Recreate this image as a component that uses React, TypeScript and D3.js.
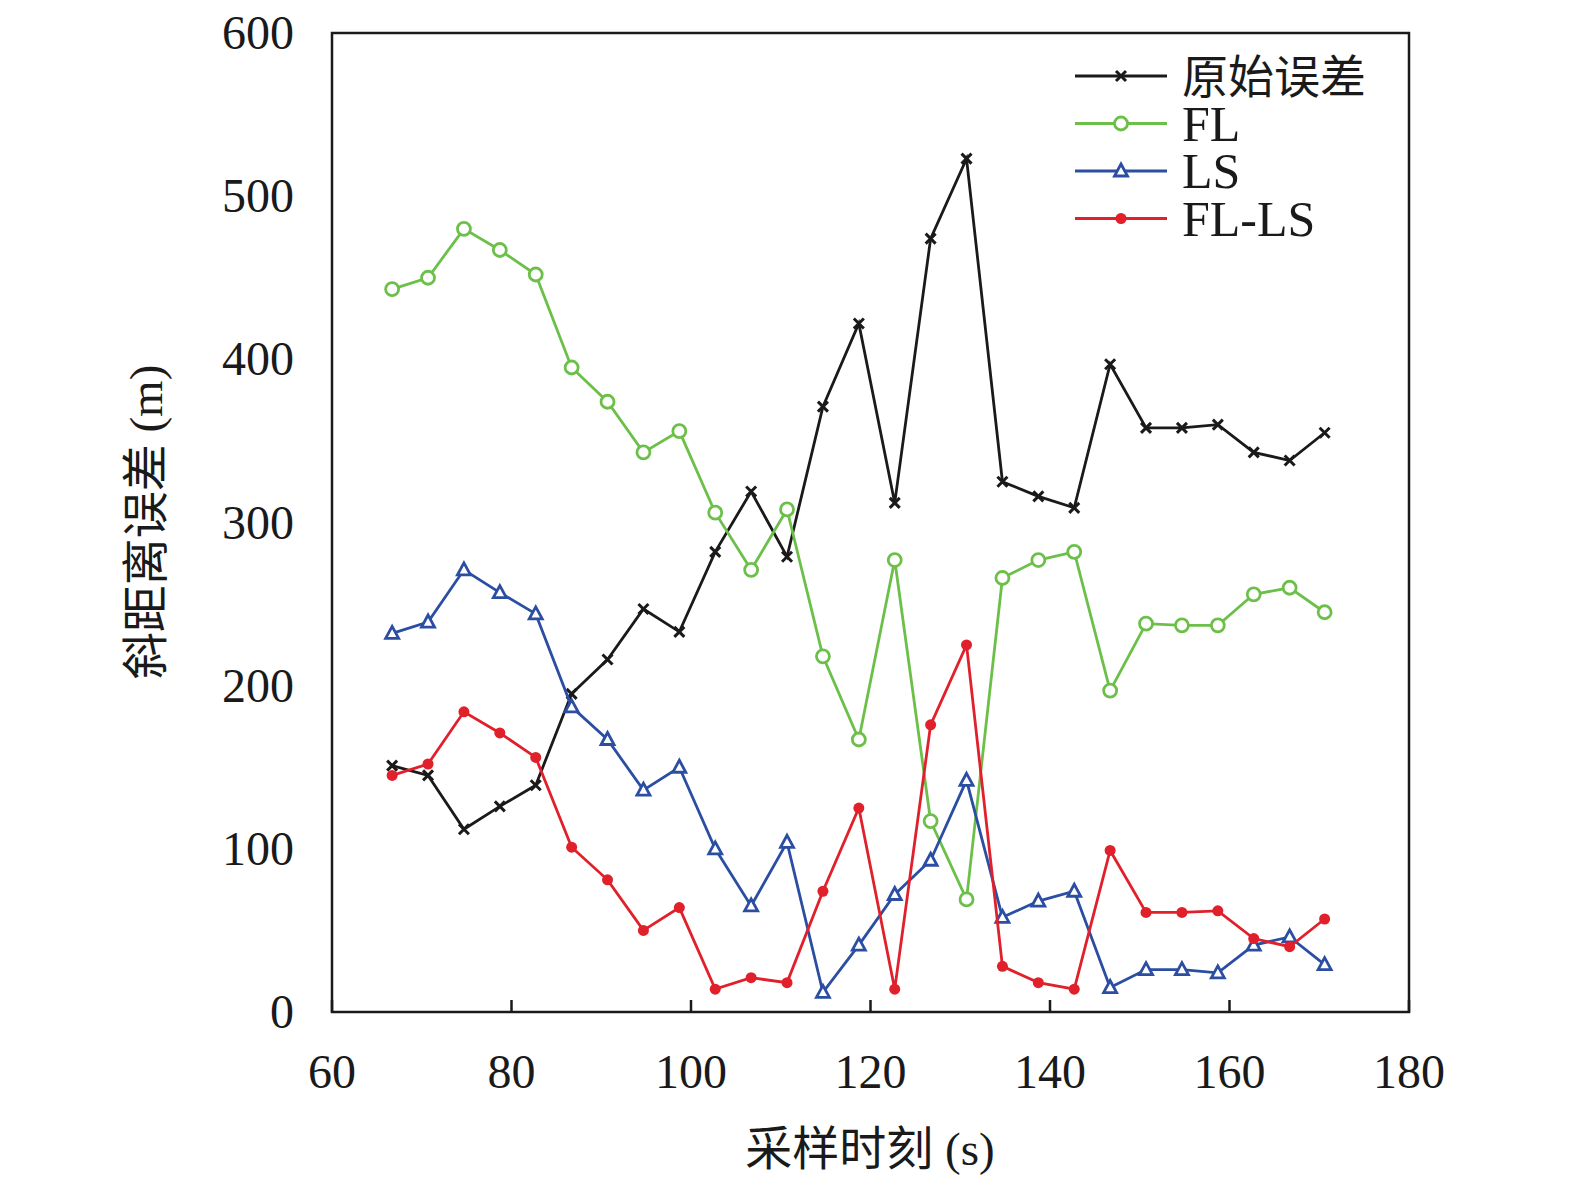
import React, { useEffect } from 'react'
import * as d3 from 'd3'

const times = [66.7, 70.7, 74.7, 78.7, 82.7, 86.7, 90.7, 94.7, 98.7, 102.7, 106.7, 110.7, 114.7, 118.7, 122.7, 126.7, 130.7, 134.7, 138.7, 142.7, 146.7, 150.7, 154.7, 158.7, 162.7, 166.7, 170.6]
const raw = [151, 145, 112, 126, 139, 195, 216, 247, 233, 282, 319, 279, 371, 422, 312, 474, 523, 325, 316, 309, 397, 358, 358, 360, 343, 338, 355]
const fl = [443, 450, 480, 467, 452, 395, 374, 343, 356, 306, 271, 308, 218, 167, 277, 117, 69, 266, 277, 282, 197, 238, 237, 237, 256, 260, 245]
const ls = [232, 239, 271, 257, 244, 187, 167, 136, 150, 100, 65, 104, 12, 41, 72, 93, 142, 58, 68, 74, 15, 26, 26, 24, 41, 46, 29]
const flls = [145, 152, 184, 171, 156, 101, 81, 50, 64, 14, 21, 18, 74, 125, 14, 176, 225, 28, 18, 14, 99, 61, 61, 62, 45, 40, 57]
const xTicks = [60, 80, 100, 120, 140, 160, 180]
const yTicks = [0, 100, 200, 300, 400, 500, 600]

const series = [
  { name: '原始误差', values: raw, color: '#1a1a1a', marker: 'x' },
  { name: 'FL', values: fl, color: '#6cc04a', marker: 'circle' },
  { name: 'LS', values: ls, color: '#2b4ea2', marker: 'tri' },
  { name: 'FL-LS', values: flls, color: '#e0202a', marker: 'dot' },
]

const serif = '"Liberation Serif", "Times New Roman", serif'
const cjk = '"Noto Sans CJK SC", sans-serif'

function Marker({ type, x, y, color }) {
  if (type === 'x')
    return <path d={`M${x - 5},${y - 5}L${x + 5},${y + 5}M${x - 5},${y + 5}L${x + 5},${y - 5}`} stroke={color} strokeWidth={3} />
  if (type === 'circle') return <circle cx={x} cy={y} r={6.5} fill="white" stroke={color} strokeWidth={2.8} />
  if (type === 'tri')
    return <path d={`M${x},${y - 7}L${x + 6.5},${y + 5}L${x - 6.5},${y + 5}Z`} fill="white" stroke={color} strokeWidth={2.8} />
  return <circle cx={x} cy={y} r={5.5} fill={color} />
}

export default function App() {
  useEffect(() => {
    document.body.style.margin = '0'
    document.body.style.overflow = 'hidden'
  }, [])
  const left = 332, right = 1409, top = 33, bottom = 1012
  const x = d3.scaleLinear().domain([60, 180]).range([left, right])
  const y = d3.scaleLinear().domain([0, 600]).range([bottom, top])
  const line = d3.line<number>().x((_, i) => x(times[i])).y(d => y(d))

  return (
    <svg width={1575} height={1191} style={{ position: 'fixed', left: 0, top: 0, background: 'white' }}>
      <rect x={left} y={top} width={right - left} height={bottom - top} fill="none" stroke="#1a1a1a" strokeWidth={2.5} />
      {xTicks.map(t => (
        <g key={t}>
          <line x1={x(t)} x2={x(t)} y1={bottom} y2={bottom - 12} stroke="#1a1a1a" strokeWidth={2.5} />
          <text x={x(t)} y={bottom + 76} textAnchor="middle" fontFamily={serif} fontSize={48} fill="#1a1a1a">{t}</text>
        </g>
      ))}
      {yTicks.map(t => (
        <text key={t} x={left - 38} y={y(t) + 16} textAnchor="end" fontFamily={serif} fontSize={48} fill="#1a1a1a">{t}</text>
      ))}
      <text x={870} y={1165} textAnchor="middle" fontSize={47} fill="#1a1a1a">
        <tspan fontFamily={cjk}>采样时刻</tspan><tspan fontFamily={serif}> (s)</tspan>
      </text>
      <text transform={`translate(162,${522}) rotate(-90)`} textAnchor="middle" fontSize={47} fill="#1a1a1a">
        <tspan fontFamily={cjk}>斜距离误差</tspan><tspan fontFamily={serif}> (m)</tspan>
      </text>
      {series.map(s => (
        <g key={s.name}>
          <path d={line(s.values) || ''} fill="none" stroke={s.color} strokeWidth={2.8} />
          {s.values.map((v, i) => <Marker key={i} type={s.marker} x={x(times[i])} y={y(v)} color={s.color} />)}
        </g>
      ))}
      {series.map((s, i) => {
        const ly = 76 + i * 47.5
        return (
          <g key={s.name}>
            <line x1={1075} x2={1167} y1={ly} y2={ly} stroke={s.color} strokeWidth={2.8} />
            <Marker type={s.marker} x={1121} y={ly} color={s.color} />
            <text x={1182} y={ly + 17} fontSize={i === 0 ? 46 : 50} fill="#1a1a1a" fontFamily={i === 0 ? cjk : serif}>{s.name}</text>
          </g>
        )
      })}
    </svg>
  )
}
